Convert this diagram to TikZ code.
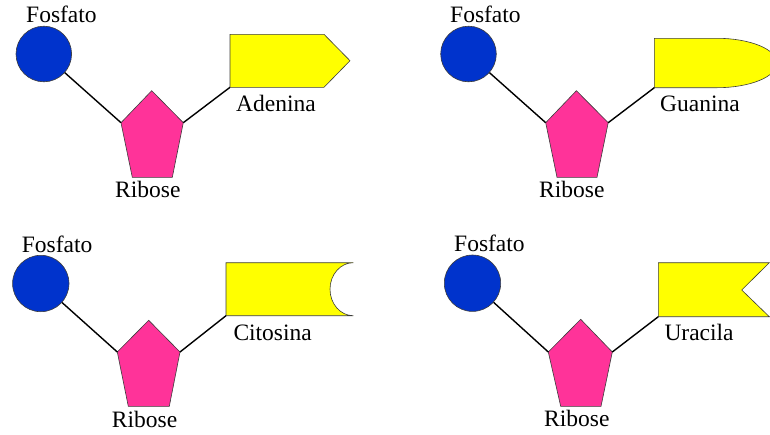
\documentclass[tikz,border=0pt]{standalone}
\usepackage{fontspec}
\setmainfont{Liberation Serif}
\definecolor{fosblue}{RGB}{0,51,204}
\definecolor{ribpink}{RGB}{255,51,153}
\definecolor{baseyellow}{RGB}{255,255,0}
\definecolor{edgegray}{RGB}{60,60,60}
\begin{document}
\begin{tikzpicture}[x=1pt,y=-1pt,
  fosfato/.style={circle,draw=edgegray,line width=0.6pt,fill=fosblue,inner sep=0pt},
  ribose/.style={draw=edgegray,line width=0.6pt,fill=ribpink,line join=miter},
  basepart/.style={draw=edgegray,line width=0.6pt,fill=baseyellow,line join=miter},
  bond/.style={black,line width=1.4pt},
  lbl/.style={anchor=base west,inner sep=0pt,font=\fontsize{23.5}{28}\selectfont}]
\clip (0,0) rectangle (770,434);
\useasboundingbox (0,0) rectangle (770,434);

% ---------- Adenina ----------
\node[fosfato,minimum size=55.6pt] (p1) at (43.8,54) {};
\node[lbl] (f1) at (26,22.7) {Fosfato};
\coordinate (r1t) at (151.7,90.7);
\coordinate (r1l) at (121,122.7);
\coordinate (r1r) at (183.3,122.7);
\coordinate (r1bl) at (132.3,177.3);
\coordinate (r1br) at (172.3,177.3);
\path[ribose] (r1t) -- (r1r) -- (r1br) -- (r1bl) -- (r1l) -- cycle;
\node[lbl] (rl1) at (115,197) {Ribose};
\coordinate (b1) at (230,87.3);
\path[basepart] (b1) -- (230,34.3) -- (324,34.3) -- (350,60.7) -- (324,87.3) -- cycle;
\node[lbl] (n1) at (236,111) {Adenina};
\draw[bond] (p1) -- (r1l);
\draw[bond] (r1r) -- (b1);

% ---------- Guanina ----------
\node[fosfato,minimum size=55.6pt] (p2) at (468.5,54) {};
\node[lbl] (f2) at (450,22.7) {Fosfato};
\coordinate (r2t) at (576.4,90.7);
\coordinate (r2l) at (545.7,122.7);
\coordinate (r2r) at (608.2,122.7);
\coordinate (r2bl) at (557,177.3);
\coordinate (r2br) at (597,177.3);
\path[ribose] (r2t) -- (r2r) -- (r2br) -- (r2bl) -- (r2l) -- cycle;
\node[lbl] (rl2) at (539,197.3) {Ribose};
\coordinate (b2) at (654.3,87.7);
\path[basepart] (b2) -- (654.3,38.3) -- (717,38.3) arc(-90:90:60 and 24.7) -- cycle;
\node[lbl] (n2) at (660,111) {Guanina};
\draw[bond] (p2) -- (r2l);
\draw[bond] (r2r) -- (b2);

% ---------- Citosina ----------
\node[fosfato,minimum size=56.4pt] (p3) at (40.8,283.5) {};
\node[lbl] (f3) at (21.7,252) {Fosfato};
\coordinate (r3t) at (148.7,320.3);
\coordinate (r3l) at (117.3,352);
\coordinate (r3r) at (180,352);
\coordinate (r3bl) at (128.3,406.3);
\coordinate (r3br) at (169.3,406.3);
\path[ribose] (r3t) -- (r3r) -- (r3br) -- (r3bl) -- (r3l) -- cycle;
\node[lbl] (rl3) at (111.7,427) {Ribose};
\coordinate (b3) at (226,315.7);
\path[basepart] (b3) -- (226,262.7) -- (353.3,262.7) arc(-90:-270:23.3 and 26.5) -- cycle;
\node[lbl] (n3) at (233.3,340.3) {Citosina};
\draw[bond] (p3) -- (r3l);
\draw[bond] (r3r) -- (b3);

% ---------- Uracila ----------
\node[fosfato,minimum size=56.4pt] (p4) at (472.5,283.2) {};
\node[lbl] (f4) at (454,251) {Fosfato};
\coordinate (r4t) at (580.7,319.3);
\coordinate (r4l) at (548.3,352);
\coordinate (r4r) at (612.3,352);
\coordinate (r4bl) at (560.7,406.3);
\coordinate (r4br) at (601,406.3);
\path[ribose] (r4t) -- (r4r) -- (r4br) -- (r4bl) -- (r4l) -- cycle;
\node[lbl] (rl4) at (544,426) {Ribose};
\coordinate (b4) at (658.3,316.7);
\path[basepart] (b4) -- (658.3,262.7) -- (769.3,262.7) -- (741.7,290) -- (769.3,316.7) -- cycle;
\node[lbl] (n4) at (664.3,340.3) {Uracila};
\draw[bond] (p4) -- (r4l);
\draw[bond] (r4r) -- (b4);
\end{tikzpicture}
\end{document}
